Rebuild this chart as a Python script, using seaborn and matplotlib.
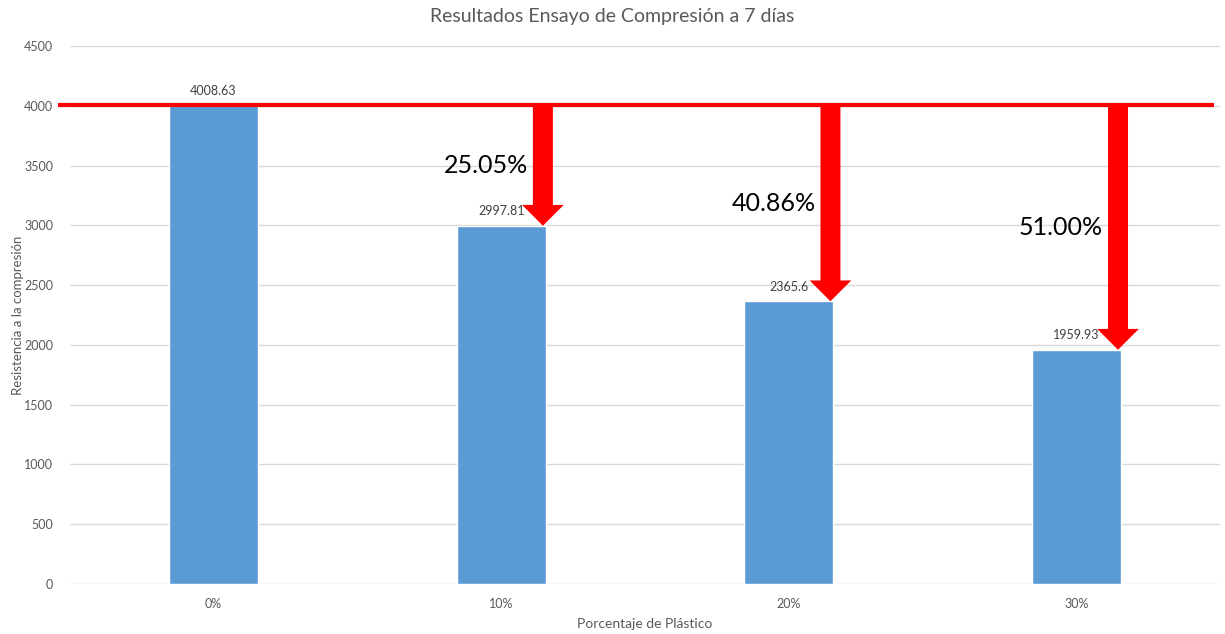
import matplotlib
matplotlib.use("Agg")
import matplotlib.pyplot as plt
from matplotlib.patches import FancyArrowPatch, ArrowStyle
import seaborn as sns
import pandas as pd

# Compression test results at 7 days
categories = ["0%", "10%", "20%", "30%"]
resistencia = [4008.63, 2997.81, 2365.6, 1959.93]
value_labels = ["4008.63", "2997.81", "2365.6", "1959.93"]
drop_labels = ["", "25.05%", "40.86%", "51.00%"]
reference_value = 4008.63
y_ticks = [0, 500, 1000, 1500, 2000, 2500, 3000, 3500, 4000, 4500]

sns.set_theme(style="white")
plt.rcParams["font.family"] = ["Lato", "DejaVu Sans"]

gray = "#595959"
df = pd.DataFrame({"Porcentaje": categories, "Resistencia": resistencia})

fig = plt.figure(figsize=(12.25, 6.34), dpi=100)
ax = fig.add_axes([0.057, 0.079, 0.939, 0.848])

sns.barplot(data=df, x="Porcentaje", y="Resistencia", color="#5B9BD5",
            width=0.31, saturation=1, ax=ax, zorder=2)

ax.set_xlim(-0.5, 3.5)
ax.set_ylim(0, 4500)
ax.set_yticks(y_ticks)
ax.yaxis.grid(True, color="#d9d9d9", linewidth=1, zorder=0)
ax.set_axisbelow(True)
for s in ax.spines.values():
    s.set_visible(False)
ax.tick_params(axis="both", length=0, colors=gray, labelsize=9)
ax.tick_params(axis="x", pad=10)
ax.tick_params(axis="y", pad=12)

ax.set_xlabel("Porcentaje de Plástico", color=gray, fontsize=10, labelpad=6)
ax.set_ylabel("Resistencia a la compresión", color=gray, fontsize=9.5)
ax.yaxis.set_label_coords(-0.040, 0.5)
fig.suptitle("Resultados Ensayo de Compresión a 7 días", color=gray,
             fontsize=14, y=0.988)

# value labels above each bar
for i, (v, lab) in enumerate(zip(resistencia, value_labels)):
    ax.annotate(lab, (i, v), xytext=(0, 6), textcoords="offset points",
                ha="center", va="bottom", fontsize=9, color="#404040")

# reference line at the 0% strength
ax.plot([-0.542, 3.48], [reference_value, reference_value], color="#FF0000",
        linewidth=3, zorder=4, clip_on=False, solid_capstyle="butt")

# arrows showing the strength loss for each plastic percentage
style = ArrowStyle.Simple(head_length=15, head_width=30, tail_width=14.4)
for i, (v, lab) in enumerate(zip(resistencia, drop_labels)):
    if not lab:
        continue
    xa = i + 0.145
    arr = FancyArrowPatch((xa, reference_value), (xa, v), arrowstyle=style,
                          mutation_scale=1, color="#FF0000", shrinkA=0,
                          shrinkB=0, zorder=5, linewidth=0)
    ax.add_patch(arr)
    ax.text(i + 0.093, (reference_value + v) / 2, lab, ha="right",
            va="center", fontsize=18, color="black", zorder=6)

fig.savefig("out.png", dpi=100)
